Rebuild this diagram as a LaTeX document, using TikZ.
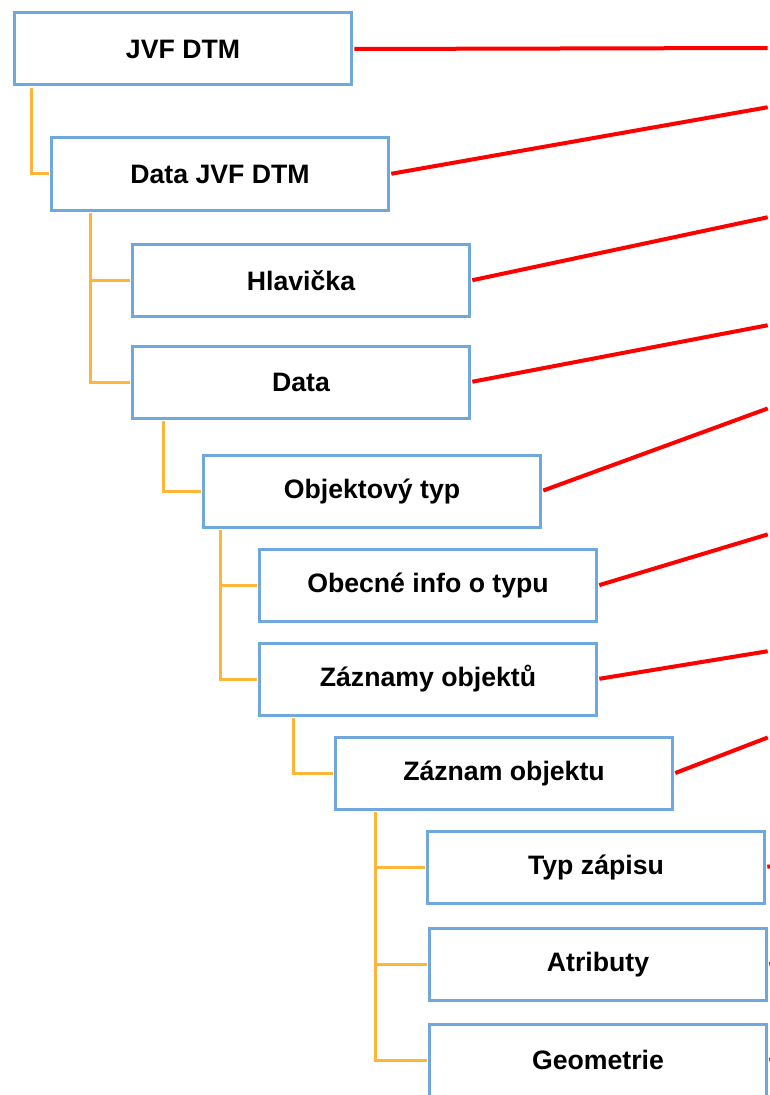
\documentclass[tikz,border=0pt]{standalone}
\usepackage{fontspec}
\setmainfont{Liberation Sans}
\definecolor{boxblue}{RGB}{111,168,220}
\definecolor{treeyellow}{RGB}{255,182,56}
\definecolor{linkred}{RGB}{255,0,0}
\begin{document}
\begin{tikzpicture}[x=0.75pt, y=-0.75pt, shorten >=1pt, shorten <=1pt, box node/.style={rectangle,draw=boxblue,line width=2.25pt,fill=white,minimum width=252.75pt,minimum height=54pt,inner sep=0pt}]%px grid
\useasboundingbox (0,0) rectangle (769,1095);
\begin{scope}[every node/.style={box node,font=\fontsize{20}{24}\selectfont\bfseries}]
\node (b1) at (183,49) {JVF DTM};
\node (b2) at (220,174) {Data JVF DTM};
\node (b3) at (301,280.5) {Hlavička};
\node (b4) at (301,382) {Data};
\node (b5) at (372,491) {Objektový typ};
\node (b6) at (428,585.5) {Obecné info o typu};
\node (b7) at (428,679) {Záznamy objektů};
\node (b8) at (504,773.5) {Záznam objektu};
\node (b9) at (596,867) {Typ zápisu};
\node (b10) at (598,964.5) {Atributy};
\node (b11) at (598,1060) {Geometrie};
\end{scope}
\coordinate (r1) at (769,48);
\coordinate (r2) at (769,107);
\coordinate (r3) at (769,217);
\coordinate (r4) at (769,325);
\coordinate (r5) at (769,408);
\coordinate (r6) at (769,534);
\coordinate (r7) at (769,651);
\coordinate (r8) at (769,737);
\coordinate (r9) at (780,865);
\coordinate (r10) at (780,962);
\coordinate (r11) at (780,1058);
\begin{scope}[every edge/.style={draw=linkred,line width=3pt}]
\draw (b1.east) edge (r1);
\draw (b2.east) edge (r2);
\draw (b3.east) edge (r3);
\draw (b4.east) edge (r4);
\draw (b5.east) edge (r5);
\draw (b6.east) edge (r6);
\draw (b7.east) edge (r7);
\draw (b8.east) edge (r8);
\draw (b9.east) edge (r9);
\draw (b10.east) edge (r10);
\draw (b11.east) edge (r11);
\end{scope}
\begin{scope}[draw=treeyellow,line width=2.25pt]
\draw ([xshift=13.9pt]b1.south west) |- (b2.west);
\draw ([xshift=30.4pt]b2.south west) |- (b3.west);
\draw ([xshift=30.4pt]b2.south west) |- (b4.west);
\draw ([xshift=24.4pt]b4.south west) |- (b5.west);
\draw ([xshift=13.9pt]b5.south west) |- (b6.west);
\draw ([xshift=13.9pt]b5.south west) |- (b7.west);
\draw ([xshift=26.6pt]b7.south west) |- (b8.west);
\draw ([xshift=31.1pt]b8.south west) |- (b9.west);
\draw ([xshift=31.1pt]b8.south west) |- (b10.west);
\draw ([xshift=31.1pt]b8.south west) |- (b11.west);
\end{scope}
\end{tikzpicture}
\end{document}
